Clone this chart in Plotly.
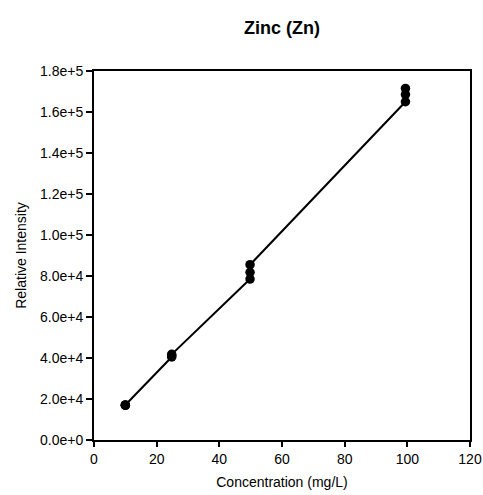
import plotly.graph_objects as go

# Data
concentration = [10, 10, 10, 24.8, 24.8, 24.8, 49.8, 49.8, 49.8, 99.4, 99.4, 99.4]
intensity = [16900, 17000, 17100, 40500, 41000, 41800, 78500, 81800, 85500, 165000, 168500, 171500]

title_text = "Zinc (Zn)"
x_title = "Concentration (mg/L)"
y_title = "Relative Intensity"

font_family = "Liberation Sans, Arial, sans-serif"

fig = go.Figure()
fig.add_trace(go.Scatter(
    x=concentration,
    y=intensity,
    mode="lines+markers",
    line=dict(color="black", width=2),
    marker=dict(color="black", size=9.5),
    showlegend=False,
))

fig.update_layout(
    width=483,
    height=495,
    paper_bgcolor="white",
    plot_bgcolor="white",
    margin=dict(l=94, r=13, t=71, b=55, autoexpand=False),
    font=dict(family=font_family, size=14, color="black"),
    title=dict(
        text="<b>" + title_text + "</b>",
        x=0.5, xref="paper", xanchor="center",
        y=1 - 28 / 495, yref="container", yanchor="middle",
        font=dict(size=18, family=font_family, color="black"),
    ),
)

fig.update_xaxes(
    automargin=False,
    range=[0, 120],
    dtick=20,
    tick0=0,
    showgrid=False,
    zeroline=False,
    showline=True,
    linecolor="black",
    linewidth=2,
    mirror=True,
    ticks="outside",
    ticklen=5,
    tickwidth=1.5,
    tickcolor="black",
    tickfont=dict(size=14),
    title=dict(text=x_title, font=dict(size=14), standoff=11),
)

fig.update_yaxes(
    automargin=False,
    range=[0, 180000],
    dtick=20000,
    tick0=0,
    tickformat=".1e",
    showgrid=False,
    zeroline=False,
    showline=True,
    linecolor="black",
    linewidth=2,
    mirror=True,
    ticks="outside",
    ticklen=6,
    tickwidth=1.5,
    tickcolor="black",
    tickfont=dict(size=14),
    title=dict(text=y_title, font=dict(size=14), standoff=10),
)

fig.write_html(
    "out.html",
    config={"displayModeBar": False, "responsive": False},
    post_script="document.body.style.margin='0';document.body.style.overflow='hidden';",
)
